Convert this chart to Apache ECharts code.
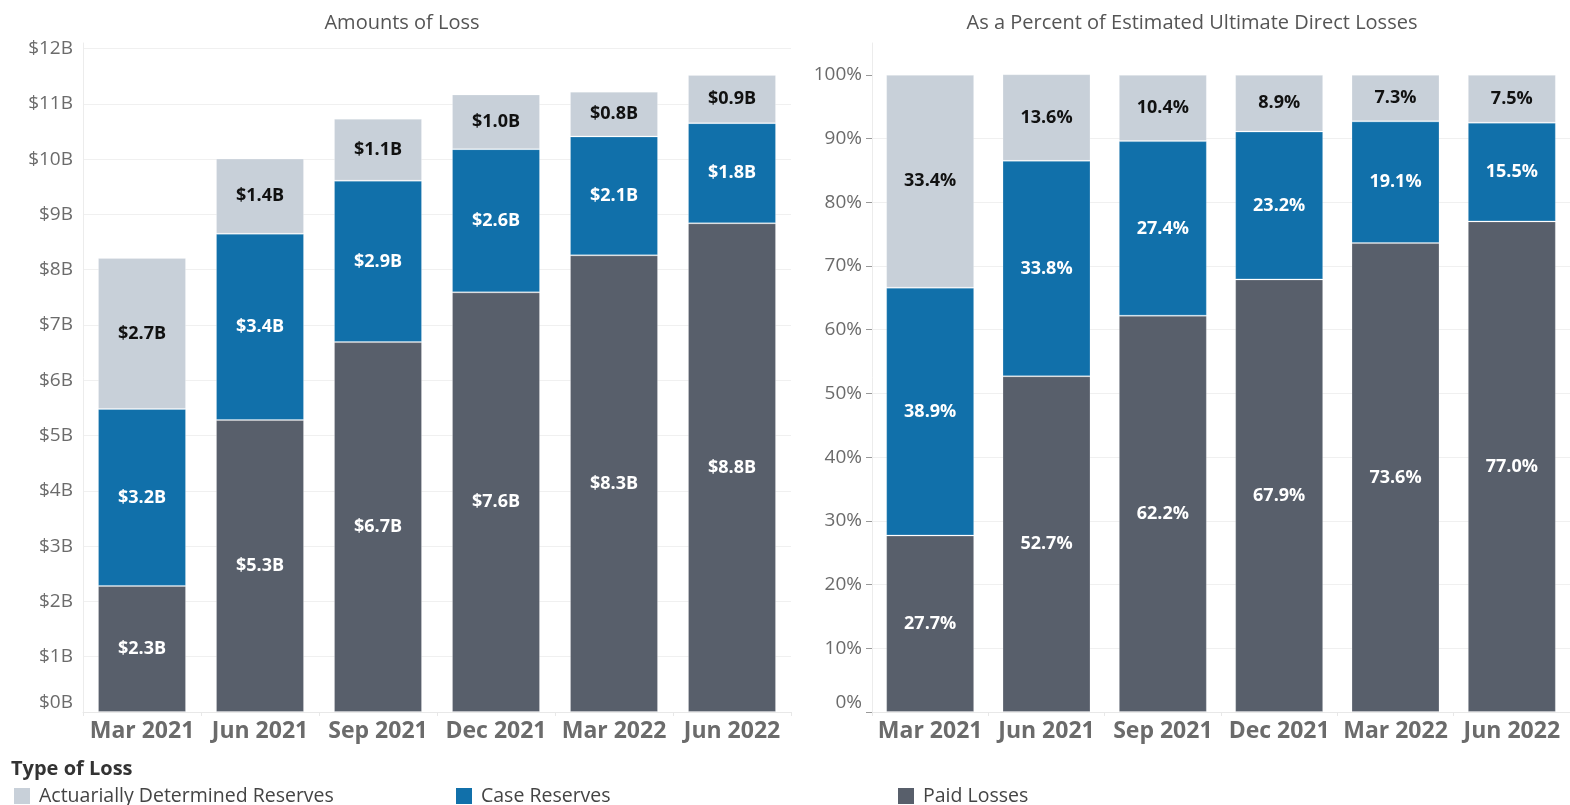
<!DOCTYPE html>
<html>
<head>
<meta charset="utf-8">
<script src="https://cdn.jsdelivr.net/npm/echarts@6/dist/echarts.min.js"></script>
<style>
  html, body { margin: 0; padding: 0; background: #fff; }
  #chart { width: 1570px; height: 805px; }
</style>
</head>
<body>
<div id="chart"></div>
<script>
// quarters shown on both panels
const quarters = ['Mar 2021', 'Jun 2021', 'Sep 2021', 'Dec 2021', 'Mar 2022', 'Jun 2022']

// amounts of loss, $ billions
const paidAmt = [2.28, 5.28, 6.69, 7.59, 8.26, 8.84]
const caseAmt = [3.20, 3.37, 2.92, 2.59, 2.15, 1.81]
const actAmt = [2.73, 1.36, 1.12, 0.99, 0.81, 0.87]

// share of estimated ultimate direct losses, %
const paidPct = [27.7, 52.7, 62.2, 67.9, 73.6, 77.0]
const casePct = [38.9, 33.8, 27.4, 23.2, 19.1, 15.5]
const actPct = [33.4, 13.6, 10.4, 8.9, 7.3, 7.5]

const pctTicks = [0, 10, 20, 30, 40, 50, 60, 70, 80, 90, 100]

const names = ['Actuarially Determined Reserves', 'Case Reserves', 'Paid Losses']
const colors = { act: '#c8d0d9', case: '#1170aa', paid: '#585f6b' }

const FONT = '"Open Sans", "Noto Sans", sans-serif'

const chart = echarts.init(document.getElementById('chart'))

function barSeries(name, data, color, labelColor, idx, fmt) {
  return {
    name: name,
    type: 'bar',
    stack: 'loss' + idx,
    xAxisIndex: idx,
    yAxisIndex: idx,
    data: data,
    barWidth: 88,
    itemStyle: { color: color, borderColor: 'rgba(255,255,255,0.22)', borderWidth: 1 },
    label: {
      show: true,
      position: 'inside',
      color: labelColor,
      fontFamily: FONT,
      fontWeight: 'bold',
      fontSize: 18,
      textBorderWidth: 0,
      formatter: p => fmt(p.value),
    },
    emphasis: { disabled: true },
    animation: false,
  }
}

const fmtB = v => '$' + v.toFixed(1) + 'B'
const fmtP = v => v.toFixed(1) + '%'

const xAxisBase = {
  type: 'category',
  data: quarters,
  axisLine: { lineStyle: { color: '#e8e8e8' } },
  axisTick: { show: true, length: 4, lineStyle: { color: '#e8e8e8' } },
  axisLabel: {
    interval: 0,
    color: '#6b6b6b',
    fontFamily: FONT,
    fontWeight: 'bold',
    fontSize: 23,
    margin: 8,
  },
}

// one legend per item so each sits at its own column
const legendLefts = [14, 456, 898]
const legends = names.map((n, i) => ({
  data: [n],
  left: legendLefts[i],
  top: 786,
  padding: 0,
  itemWidth: 16,
  itemHeight: 16,
  icon: 'rect',
  itemStyle: { borderWidth: 0 },
  selectedMode: false,
  textStyle: { fontFamily: FONT, fontSize: 19.5, color: '#444', padding: [0, 0, 0, 4] },
}))

const titleStyle = { fontFamily: FONT, fontWeight: 'normal', fontSize: 20, color: '#555' }

chart.setOption({
  title: [
    { text: 'Amounts of Loss', left: 397, top: 8, textAlign: 'center', textStyle: titleStyle },
    {
      text: 'As a Percent of Estimated Ultimate Direct Losses',
      left: 1187, top: 8, textAlign: 'center', textStyle: titleStyle,
    },
    {
      text: 'Type of Loss',
      left: 11, top: 759,
      padding: 0,
      textStyle: { fontFamily: FONT, fontWeight: 'bold', fontSize: 20, color: '#333' },
    },
  ],
  legend: legends,
  grid: [
    { left: 83, top: 43, width: 708, height: 669 },
    { left: 872, top: 43, width: 706, height: 669 },
  ],
  xAxis: [
    Object.assign({ gridIndex: 0 }, xAxisBase),
    Object.assign({ gridIndex: 1 }, xAxisBase),
  ],
  yAxis: [
    {
      gridIndex: 0,
      type: 'value',
      min: 0, max: 12.1, interval: 1,
      axisLine: { show: true, lineStyle: { color: '#ececec' } },
      axisTick: { show: false },
      splitLine: { lineStyle: { color: '#f0f0f0' }, showMaxLine: false },
      axisLabel: {
        color: '#6b6b6b', fontFamily: FONT, fontSize: 19, margin: 10,
        verticalAlignMinLabel: 'bottom',
        showMaxLabel: false,
        formatter: v => (Math.abs(v - Math.round(v)) < 1e-6 ? '$' + Math.round(v) + 'B' : ''),
      },
    },
    {
      gridIndex: 1,
      type: 'value',
      min: 0, max: 105, interval: 10,
      axisLine: { show: true, lineStyle: { color: '#ececec' } },
      axisTick: { show: true, length: 6, customValues: pctTicks, lineStyle: { color: '#999' } },
      splitLine: { lineStyle: { color: '#f0f0f0' }, showMaxLine: false },
      axisLabel: {
        customValues: pctTicks,
        color: '#6b6b6b', fontFamily: FONT, fontSize: 19, margin: 10,
        verticalAlignMinLabel: 'bottom',
        formatter: v => (v <= 100 ? v + '%' : ''),
      },
    },
  ],
  series: [
    barSeries(names[2], paidAmt, colors.paid, '#fff', 0, fmtB),
    barSeries(names[1], caseAmt, colors.case, '#fff', 0, fmtB),
    barSeries(names[0], actAmt, colors.act, '#111', 0, fmtB),
    barSeries(names[2], paidPct, colors.paid, '#fff', 1, fmtP),
    barSeries(names[1], casePct, colors.case, '#fff', 1, fmtP),
    barSeries(names[0], actPct, colors.act, '#111', 1, fmtP),
  ],
})
</script>
</body>
</html>
